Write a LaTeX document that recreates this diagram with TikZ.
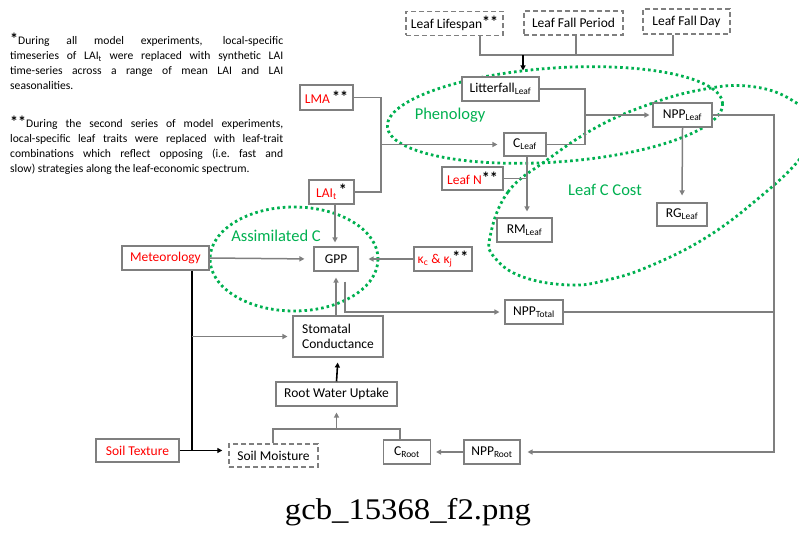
\documentclass[tikz,border=0pt]{standalone}
\usepackage{fontspec}
\setmainfont{Carlito}
\newfontfamily\titlefont{Liberation Serif}
\usetikzlibrary{arrows.meta,calc}
\definecolor{bgray}{HTML}{7F7F7F}
\definecolor{lgreen}{HTML}{00B050}
\definecolor{fred}{HTML}{FF0000}
\newcommand{\stars}[1]{\raisebox{1.5pt}{\fontsize{16}{16}\selectfont\bfseries #1}}
\newcommand{\bigstar}[1]{{\fontsize{16}{15}\selectfont\bfseries #1}}
\begin{document}
\begin{tikzpicture}[x=1pt,y=-1pt,
  box/.style={draw=bgray,line width=1.1pt,inner sep=0pt,font=\fontsize{13.5}{15}\selectfont,fill=white},
  dbox/.style={box,dash pattern=on 5pt off 3pt,line width=1.4pt},
  ln/.style={draw=bgray,line width=1.5pt},
  arr/.style={ln,-{Triangle[length=5pt,width=5pt]}},
  blk/.style={draw=black,line width=1.6pt},
  blkarr/.style={blk,-{Triangle[length=5pt,width=5pt]}},
  dotg/.style={draw=lgreen,line width=2.8pt,dash pattern=on 2.6pt off 3pt},
  glab/.style={text=lgreen,font=\fontsize{16.5}{18}\selectfont,inner sep=0pt},
  note/.style={anchor=north west,text width=273pt,align=justify,inner sep=0pt,font=\fontsize{11.6}{15}\selectfont}
]
\useasboundingbox (0,0) rectangle (799,535);

% green ellipses
\begin{scope}
\clip (0,0) rectangle (799,535);
\draw[dotg,rotate around={4:(555,115)}] (555,115) ellipse [x radius=168, y radius=47];
\draw[dotg] plot[smooth cycle,tension=0.7] coordinates {(490,237) (508,192) (547,160) (597,127) (650,104) (700,90) (747,86) (790,99) (818,128) (799,160) (760,197) (707,237) (650,266) (607,280) (570,285) (523,277) (495,258)};
\draw[dotg] (294,259) ellipse [x radius=84, y radius=52];
\end{scope}
\node[glab] (phen) at (450,115) {Phenology};
\node[glab] (lcc) at (605,190) {Leaf C Cost};
\node[glab] (assim) at (276,236) {Assimilated C};

% notes
\node[note] (n1) at (10,33) {\bigstar{*}During all model experiments, local-specific\linebreak timeseries of LAI\textsubscript{t} were replaced with synthetic LAI\linebreak time-series across a range of mean LAI and LAI\linebreak seasonalities.};
\node[note] (n2) at (10,116) {\bigstar{**}During the second series of model experiments,\linebreak local-specific leaf traits were replaced with leaf-trait\linebreak combinations which reflect opposing (i.e.\ fast and\linebreak slow) strategies along the leaf-economic spectrum.};

% boxes
\node[dbox,minimum width=97pt,minimum height=24pt] (life) at (454.5,23.5) {Leaf Lifespan\stars{**}};
\node[dbox,minimum width=99pt,minimum height=24pt] (period) at (573.5,23) {Leaf Fall Period};
\node[dbox,minimum width=87pt,minimum height=25pt] (day) at (686.5,21.5) {Leaf Fall Day};
\node[box,minimum width=77pt,minimum height=24pt] (litter) at (500.5,89) {Litterfall\textsubscript{Leaf}};
\node[box,minimum width=53pt,minimum height=25pt] (lma) at (326.5,97.5) {\textcolor{fred}{LMA}\,\stars{**}};
\node[box,minimum width=42pt,minimum height=23pt] (cleaf) at (525,144.5) {C\textsubscript{Leaf}};
\node[box,minimum width=59pt,minimum height=24pt] (nppleaf) at (682.5,115) {NPP\textsubscript{Leaf}};
\node[box,minimum width=50pt,minimum height=23pt] (rgleaf) at (682,214.5) {RG\textsubscript{Leaf}};
\node[box,minimum width=61pt,minimum height=23pt] (leafn) at (472.5,178.5) {\textcolor{fred}{Leaf N}\stars{**}};
\node[box,minimum width=55pt,minimum height=24pt] (rmleaf) at (524.5,230) {RM\textsubscript{Leaf}};
\node[box,minimum width=45pt,minimum height=24pt] (lai) at (331.5,192) {\textcolor{fred}{LAI\textsubscript{t}}\,\stars{*}};
\node[box,minimum width=44pt,minimum height=24pt] (gpp) at (336,259) {GPP};
\node[box,minimum width=58pt,minimum height=24pt] (kappa) at (443,259) {\textcolor{fred}{κ\textsubscript{c} \& κ\textsubscript{j}}\stars{**}};
\node[box,minimum width=87pt,minimum height=24pt] (met) at (165.5,258) {\textcolor{fred}{Meteorology}};
\node[box,minimum width=58pt,minimum height=24pt] (npptot) at (534,312) {NPP\textsubscript{Total}};
\node[box,minimum width=90pt,minimum height=41pt,align=left] (stom) at (338,336.5) {Stomatal\\Conductance};
\node[box,minimum width=121pt,minimum height=24pt] (rwu) at (336.5,394) {Root Water Uptake};
\node[dbox,minimum width=89pt,minimum height=23pt] (soilm) at (273.5,455.5) {Soil Moisture};
\node[box,minimum width=47pt,minimum height=24pt] (croot) at (407,452) {C\textsubscript{Root}};
\node[box,minimum width=56pt,minimum height=24pt] (npproot) at (492,452) {NPP\textsubscript{Root}};
\node[box,minimum width=83pt,minimum height=23pt] (soilt) at (137.5,450.5) {\textcolor{fred}{Soil Texture}};

% title
\node[font=\titlefont\fontsize{30}{32}\selectfont,inner sep=0pt,xscale=1.09] (title) at (408,512) {gcb\_15368\_f2.png};

% connectors: top
\coordinate (jl) at (480,55);
\coordinate (jm) at (576,55);
\coordinate (jr) at (673,55);
\coordinate (ja) at (523,55);
\draw[ln] (life.south -| jl) -- (jl) -- (jr) -- (day.south -| jr);
\draw[ln] (period.south -| jm) -- (jm);
\draw[blkarr,shorten >=6pt] (ja) -- (litter.north -| ja);

% LMA / LAI
\coordinate (xl) at (381,0);
\draw[ln] (lma.east) -- (lma.east -| xl) -- (lai.east -| xl) -- (lai.east);
\draw[arr,shorten >=6pt] (cleaf.west -| xl) -- (cleaf.west);

% Litterfall / C_Leaf
\coordinate (xr) at (585,0);
\draw[ln] (litter.east) -- (litter.east -| xr) -- (cleaf.east -| xr) -- (cleaf.east);
\draw[arr,shorten >=3pt] (nppleaf.west -| xr) -- (nppleaf.west);

% right loop
\coordinate (xe) at (774,0);
\draw[arr,shorten >=7pt] (nppleaf.east) -- (nppleaf.east -| xe) -- (npproot.east -| xe) -- (npproot.east);
\draw[ln] (npptot.east) -- (npptot.east -| xe);
\draw[arr,shorten >=7pt] (nppleaf.south) -- (rgleaf.north);

% C_Leaf -> RM
\coordinate (xc) at (527,0);
\draw[arr,shorten >=6pt] (cleaf.south -| xc) -- (rmleaf.north -| xc);
\draw[ln] (leafn.east) -- (leafn.east -| xc);

% GPP
\coordinate (xg) at (335,0);
\draw[arr,shorten >=4pt] (lai.south -| xg) -- (gpp.north -| xg);
\draw[arr,shorten >=10pt] (kappa.west) -- (gpp.east);
\draw[arr,shorten >=9pt] (met.east) -- (gpp.west);
\draw[arr,shorten >=6pt] (stom.north -| gpp) -- (gpp.south);
\coordinate (g2) at ($(gpp.south)+(9,10)$);
\draw[arr,shorten >=5pt] (g2) |- (npptot.west);

% meteorology / soil
\coordinate (xm) at (192,0);
\draw[blk] (met.south -| xm) -- (soilt.east -| xm);
\draw[blkarr,shorten >=6pt] (soilt.east) -- (soilt.east -| soilm.west);
\draw[arr,shorten >=5pt] (stom.west -| xm) -- (stom.west);
\draw[blkarr,shorten >=5pt] (rwu.north) -- (stom.south);

% root water uptake
\coordinate (sl) at (273,429);
\coordinate (sr) at (400,429);
\draw[ln] (soilm.north -| sl) -- (sl) -- (sr) -- (croot.north -| sr);
\draw[arr,shorten >=6pt] (rwu.south |- sl) -- (rwu.south);
\draw[arr,shorten >=5pt] (npproot.west) -- (croot.east);
\end{tikzpicture}
\end{document}
